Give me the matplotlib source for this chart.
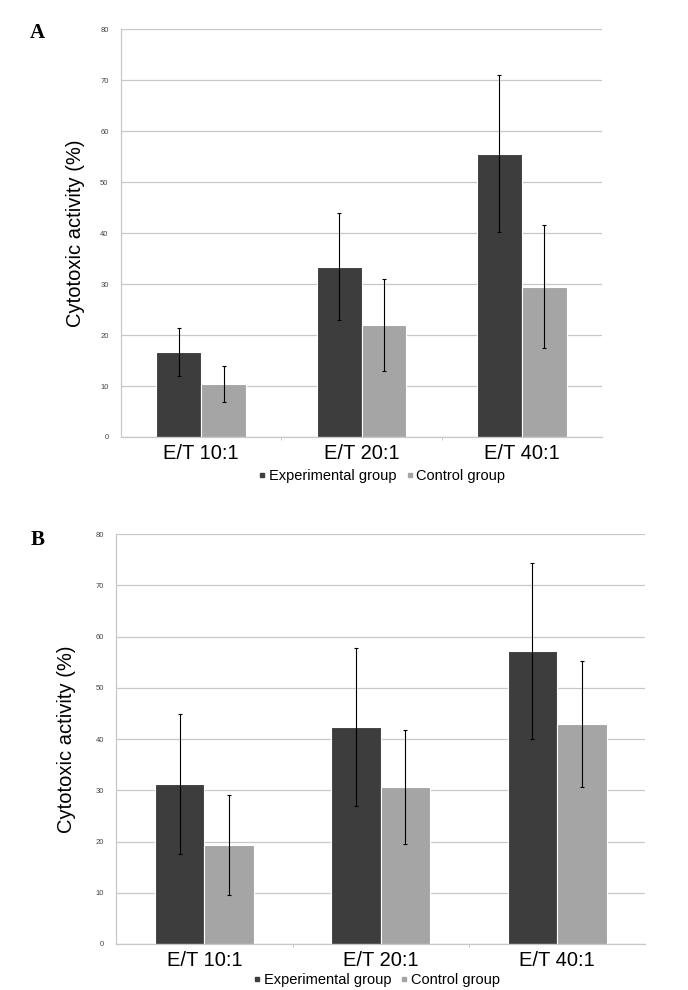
import numpy as np
import matplotlib
matplotlib.use("agg")
from matplotlib import pyplot as plt
from matplotlib.lines import Line2D

plt.rcParams["font.family"] = ["Liberation Sans", "DejaVu Sans"]

# data
categories = ["E/T 10:1", "E/T 20:1", "E/T 40:1"]
series_names = ["Experimental group", "Control group"]

a_exp = [16.7, 33.4, 55.6]
a_exp_err = [4.7, 10.5, 15.4]
a_ctl = [10.4, 22.0, 29.5]
a_ctl_err = [3.6, 9.0, 12.0]

b_exp = [31.2, 42.4, 57.2]
b_exp_err = [13.7, 15.4, 17.1]
b_ctl = [19.3, 30.7, 42.9]
b_ctl_err = [9.7, 11.1, 12.3]

yticks = [0, 10, 20, 30, 40, 50, 60, 70, 80]

dark = "#3d3d3d"
light = "#a5a5a5"
grid_c = "#c8c8c8"


def panel(ax, exp, exp_err, ctl, ctl_err, legend_xy, ylab_pad):
    x = np.arange(len(categories))
    w = 0.28
    ax.bar(x - w / 2, exp, w, color=dark, edgecolor="white", linewidth=0.8, zorder=2)
    ax.bar(x + w / 2, ctl, w, color=light, edgecolor="white", linewidth=0.8, zorder=2)
    ax.errorbar(x - w / 2, exp, yerr=exp_err, fmt="none", ecolor="black",
                elinewidth=0.8, capsize=1.5, capthick=0.8, zorder=3)
    ax.errorbar(x + w / 2, ctl, yerr=ctl_err, fmt="none", ecolor="black",
                elinewidth=0.8, capsize=1.5, capthick=0.8, zorder=3)

    ax.set_xlim(-0.5, len(categories) - 0.5)
    ax.set_ylim(0, 80)
    ax.set_yticks(yticks)
    ax.set_yticklabels([str(t) for t in yticks], fontsize=5.5, color="#444444")
    ax.yaxis.grid(True, color=grid_c, linewidth=0.9, zorder=0)
    ax.set_axisbelow(True)
    ax.tick_params(axis="y", length=0, pad=9)

    ax.set_xticks(x)
    ax.set_xticklabels(categories, fontsize=14.5)
    ax.set_xticks([0.5, 1.5], minor=True)
    ax.tick_params(axis="x", which="major", length=0, pad=5)
    ax.tick_params(axis="x", which="minor", length=2, color="#bbbbbb", direction="out")

    for s in ["top", "right"]:
        ax.spines[s].set_visible(False)
    ax.spines["left"].set_color("#c8c8c8")
    ax.spines["bottom"].set_color("#c8c8c8")
    ax.spines["left"].set_linewidth(0.9)
    ax.spines["bottom"].set_linewidth(0.9)

    ax.set_ylabel("Cytotoxic activity (%)", fontsize=14.5, labelpad=ylab_pad)

    handles = [Line2D([], [], marker="s", linestyle="none", color=dark, markersize=3.5),
               Line2D([], [], marker="s", linestyle="none", color=light, markersize=3.5)]
    ax.legend(handles, series_names, ncol=2, frameon=False, fontsize=10.5,
              loc="center", bbox_to_anchor=legend_xy, handletextpad=0.05,
              columnspacing=0.5, handlelength=0.8, borderaxespad=0)


fig = plt.figure(figsize=(6.88, 9.9), dpi=100)

ax_a = fig.add_axes([0.176, 0.5586, 0.699, 0.412])
panel(ax_a, a_exp, a_exp_err, a_ctl, a_ctl_err, (0.54, -0.095), 11)

ax_b = fig.add_axes([0.169, 0.0465, 0.769, 0.414])
panel(ax_b, b_exp, b_exp_err, b_ctl, b_ctl_err, (0.49, -0.088), 14)

fig.text(0.055, 0.967, "A", fontsize=15, fontweight="bold",
         family="Liberation Serif", va="center", ha="center")
fig.text(0.055, 0.455, "B", fontsize=15, fontweight="bold",
         family="Liberation Serif", va="center", ha="center")

fig.savefig("out.png", dpi=100)
